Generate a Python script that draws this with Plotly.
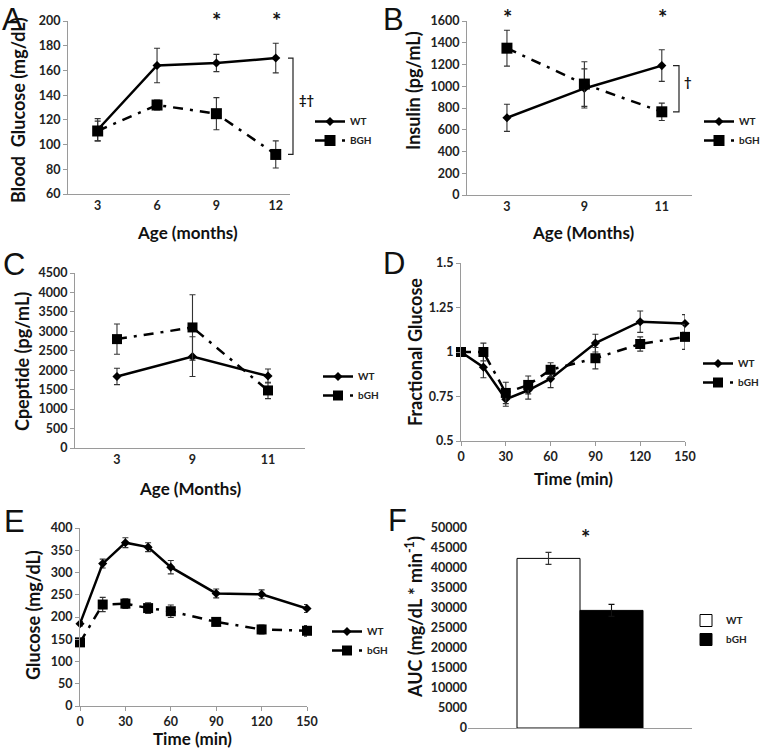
import plotly.graph_objects as go

# ---------------- data ----------------
months_a = ["3", "6", "9", "12"]
wt_a = [112, 164, 166, 170]
wt_a_err = [9, 14, 7, 12]
bgh_a = [111, 132, 125, 92]
bgh_a_err = [8, 4, 13, 11]

months_bc = ["3", "9", "11"]
wt_b = [710, 980, 1190]
wt_b_err = [125, 180, 145]
bgh_b = [1350, 1020, 765]
bgh_b_err = [165, 205, 80]

wt_c = [1840, 2350, 1850]
wt_c_err = [210, 510, 180]
bgh_c = [2800, 3100, 1480]
bgh_c_err = [390, 840, 210]

time_min = [0, 15, 30, 45, 60, 90, 120, 150]
wt_d = [1.0, 0.915, 0.735, 0.785, 0.85, 1.05, 1.17, 1.16]
wt_d_err = [0, 0.06, 0.04, 0.05, 0.05, 0.05, 0.06, 0.05]
bgh_d = [1.0, 1.0, 0.77, 0.815, 0.9, 0.965, 1.045, 1.085]
bgh_d_err = [0, 0.05, 0.06, 0.05, 0.04, 0.06, 0.04, 0.07]

wt_e = [185, 320, 367, 357, 312, 253, 251, 219]
wt_e_err = [5, 10, 11, 10, 15, 10, 10, 9]
bgh_e = [143, 228, 230, 220, 213, 189, 172, 169]
bgh_e_err = [8, 16, 11, 12, 14, 9, 10, 12]

auc_cat = ["AUC"]
auc_wt = [42400]
auc_wt_err = [1500]
auc_bgh = [29400]
auc_bgh_err = [1500]

# ---------------- helpers ----------------
W, H = 762, 753
FONT = "Lato, Open Sans, sans-serif"
AX = "#9a9a9a"


def px(x):
    return x / W


def py(y):
    return 1 - y / H


def err(vals, color="#333"):
    return dict(type="data", array=vals, visible=True, thickness=1.1, width=3, color=color)


fig = go.Figure()


def add_pair(xv, wt, wte, bgh, bghe, xa, ya, leg, bname, sq=10):
    fig.add_trace(go.Scatter(
        x=xv, y=wt, error_y=err(wte), mode="lines+markers", name="WT",
        line=dict(color="black", width=2.5), marker=dict(symbol="diamond", size=7, color="black"),
        xaxis=xa, yaxis=ya, legend=leg, cliponaxis=False))
    fig.add_trace(go.Scatter(
        x=xv, y=bgh, error_y=err(bghe), mode="lines+markers", name=bname,
        line=dict(color="black", width=2.5, dash="10px,7px,3px,7px"),
        marker=dict(symbol="square", size=sq, color="black"),
        xaxis=xa, yaxis=ya, legend=leg, cliponaxis=False))


add_pair(months_a, wt_a, wt_a_err, bgh_a, bgh_a_err, "x", "y", "legend", "BGH", 11)
add_pair(months_bc, wt_b, wt_b_err, bgh_b, bgh_b_err, "x2", "y2", "legend2", "bGH", 11)
add_pair(months_bc, wt_c, wt_c_err, bgh_c, bgh_c_err, "x3", "y3", "legend3", "bGH", 10)
add_pair(time_min, wt_d, wt_d_err, bgh_d, bgh_d_err, "x4", "y4", "legend4", "bGH", 10)
add_pair(time_min, wt_e, wt_e_err, bgh_e, bgh_e_err, "x5", "y5", "legend5", "bGH", 10)

fig.add_trace(go.Bar(x=auc_cat, y=auc_wt, name="WT", error_y=err(auc_wt_err),
                     marker=dict(color="white", line=dict(color="black", width=1)),
                     xaxis="x6", yaxis="y6", legend="legend6"))
fig.add_trace(go.Bar(x=auc_cat, y=auc_bgh, name="bGH", error_y=err(auc_bgh_err, "#111"),
                     marker=dict(color="black", line=dict(color="black", width=1)),
                     xaxis="x6", yaxis="y6", legend="legend6"))

tickfont = dict(family=FONT, size=12.5, color="#222", weight="bold")


def xaxis(d0, d1, anchor, rng, **kw):
    base = dict(domain=[px(d0), px(d1)], anchor=anchor, range=rng, showline=True, linecolor=AX,
                linewidth=1, ticks="outside", ticklen=4, tickcolor=AX, showgrid=False,
                zeroline=False, tickfont=tickfont, fixedrange=True)
    base.update(kw)
    return base


def yaxis(t, b, anchor, rng, dtick, **kw):
    base = dict(domain=[py(b), py(t)], anchor=anchor, range=rng, dtick=dtick, showline=True,
                linecolor=AX, linewidth=1, ticks="outside", ticklen=4, tickcolor=AX,
                showgrid=False, zeroline=False, tickfont=tickfont, fixedrange=True)
    base.update(kw)
    return base


layout = dict(
    width=W, height=H, margin=dict(l=0, r=0, t=0, b=0, autoexpand=False),
    paper_bgcolor="white", plot_bgcolor="white",
    font=dict(family=FONT, color="#222"),
    barmode="group", bargap=0.4375, bargroupgap=0,
    xaxis=xaxis(68, 290, "y", [-0.5, 3.24], type="category", ticks=""),
    yaxis=yaxis(21, 194, "x", [60, 200], 20),
    xaxis2=xaxis(467, 692, "y2", [-0.516, 2.39], type="category", ticks=""),
    yaxis2=yaxis(21, 195, "x2", [0, 1600], 200),
    xaxis3=xaxis(75, 305, "y3", [-0.556, 2.49], type="category", ticks=""),
    yaxis3=yaxis(273, 448, "x3", [0, 4500], 500),
    xaxis4=xaxis(461, 685, "y4", [0, 150], dtick=30),
    yaxis4=yaxis(263, 441, "x4", [0.5, 1.5], 0.25, tickvals=[0.5, 0.75, 1, 1.25, 1.5],
                 ticktext=["0.5", "0.75", "1", "1.25", "1.5"]),
    xaxis5=xaxis(80, 307, "y5", [0, 150], dtick=30),
    yaxis5=yaxis(528, 706, "x5", [0, 400], 50),
    xaxis6=xaxis(468, 692, "y6", [-0.5, 0.5], type="category", ticks="", showticklabels=False),
    yaxis6=yaxis(528, 728, "x6", [0, 50000], 5000, showline=False, ticks="", tickformat="d"),
)

legfont = dict(family=FONT, size=10, color="#222", weight="bold")


def leg(x, y, xanchor="left"):
    return dict(x=px(x), y=py(y), xanchor=xanchor, yanchor="top", font=legfont,
                bgcolor="rgba(0,0,0,0)", itemwidth=30, tracegroupgap=0)


layout["legend"] = leg(310, 107)
layout["legend2"] = leg(765, 107, "right")
layout["legend3"] = leg(318, 362)
layout["legend4"] = leg(764, 349, "right")
layout["legend5"] = leg(327, 617)
layout["legend6"] = leg(686, 606)

fig.update_layout(**layout)

ann = []


def text(x, y, s, size, angle=0, bold=True, family=FONT, xanchor="center", yanchor="middle"):
    ann.append(dict(x=px(x), y=py(y), xref="paper", yref="paper", text=s, showarrow=False,
                    textangle=angle, xanchor=xanchor, yanchor=yanchor,
                    font=dict(family=family, size=size, color="#111",
                              weight="bold" if bold else "normal")))


# panel letters
for (lx, ly, s, ya) in [(0, 0, "A", "top"), (381, 0, "B", "top"), (1, 264, "C", "middle"),
                        (381, 263, "D", "middle"), (2, 521, "E", "middle"), (386, 520, "F", "middle")]:
    text(lx, ly, s, 31, bold=False, family="Liberation Sans, Arial", xanchor="left", yanchor=ya)

# axis titles
text(18, 110, "Blood  Glucose (mg/dL)", 18, -90)
text(187, 233, "Age (months)", 17)
text(413, 91, "Insulin (pg/mL)", 18, -90)
text(583, 233, "Age (Months)", 17)
text(22, 362, "Cpeptide (pg/mL)", 18, -90)
text(190, 488, "Age (Months)", 17)
text(415, 352, "Fractional Glucose", 18, -90)
text(573, 478, "Time (min)", 17)
text(33, 615, "Glucose (mg/dL)", 18, -90)
text(193, 738, "Time (min)", 17)
text(414, 617, "AUC (mg/dL * min<sup>-1</sup>)", 18, -90)

# significance marks
text(217, 21, "*", 22)
text(276, 21, "*", 22)
text(507, 18, "*", 22)
text(662, 18, "*", 22)
text(585, 537, "*", 22)
text(307, 100, "‡†", 13)
text(688, 82, "†", 13)

fig.update_layout(annotations=ann)

# brackets (span between the last WT and bGH values)
fig.add_shape(type="path", xref="paper", yref="y",
              path=f"M {px(288)},{wt_a[-1]} L {px(293)},{wt_a[-1]} L {px(293)},{bgh_a[-1]} L {px(288)},{bgh_a[-1]}",
              line=dict(color="#222", width=1.2))
fig.add_shape(type="path", xref="paper", yref="y2",
              path=f"M {px(673)},{wt_b[-1]} L {px(679)},{wt_b[-1]} L {px(679)},{bgh_b[-1]} L {px(673)},{bgh_b[-1]}",
              line=dict(color="#222", width=1.2))

fig.write_html(
    "out.html",
    config={"displayModeBar": False},
    post_script="document.documentElement.style.margin='0';document.body.style.margin='0';document.body.style.overflow='hidden';",
)
